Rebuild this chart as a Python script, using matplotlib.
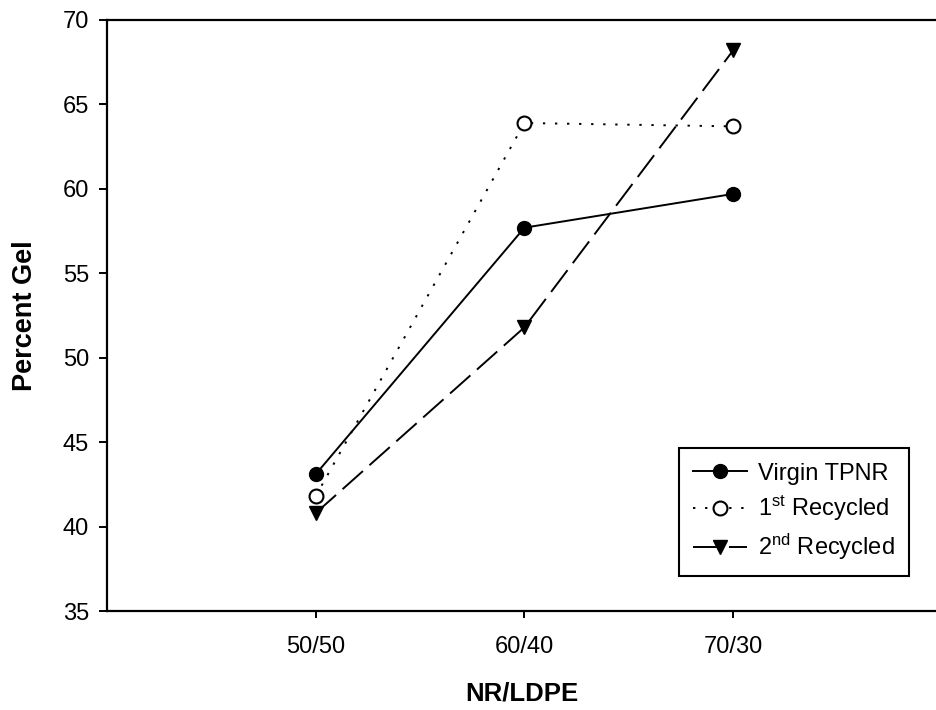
import matplotlib
matplotlib.use("Agg")
import matplotlib.pyplot as plt

plt.rcParams['font.family'] = ['Liberation Sans', 'DejaVu Sans']
plt.rcParams['mathtext.fontset'] = 'custom'
plt.rcParams['mathtext.rm'] = 'Liberation Sans'
plt.rcParams['mathtext.it'] = 'Liberation Sans'
plt.rcParams['mathtext.bf'] = 'Liberation Sans:bold'

categories = ["50/50", "60/40", "70/30"]
virgin = [43.1, 57.7, 59.7]
recycled1 = [41.8, 63.9, 63.7]
recycled2 = [40.8, 51.8, 68.2]
labels = ["Virgin TPNR", r"1$^{\mathrm{st}}$ Recycled", r"2$^{\mathrm{nd}}$ Recycled"]
yticks = [35, 40, 45, 50, 55, 60, 65, 70]

fig = plt.figure(figsize=(9.36, 7.10), dpi=100)
ax = fig.add_axes([107/936, 99/710, 1 - 107/936, 591/710])

x = list(range(1, len(categories) + 1))
ax.plot(x, virgin, color='black', lw=1.4, ls='-', marker='o', ms=10,
        mfc='black', mec='black', label=labels[0])
ax.plot(x, recycled1, color='black', lw=1.4, ls=(0, (1.2, 5)), marker='o', ms=10,
        mfc='white', mec='black', mew=1.5, label=labels[1])
ax.plot(x, recycled2, color='black', lw=1.4, ls=(0, (14, 4.5)), marker='v', ms=10,
        mfc='black', mec='black', label=labels[2])

ax.set_xlim(0, 3.972)
ax.set_ylim(35, 70)
ax.set_xticks(x)
ax.set_xticklabels(categories)
ax.set_yticks(yticks)

for s in ['left', 'bottom', 'top']:
    ax.spines[s].set_linewidth(1.6)
ax.spines['right'].set_visible(False)

ax.tick_params(axis='y', direction='out', length=6, width=1.4, labelsize=17, pad=7)
ax.tick_params(axis='x', direction='out', length=5, width=1.4, labelsize=17, pad=13)

ax.set_ylabel("Percent Gel", fontsize=19.5, fontweight='bold', labelpad=18)
ax.set_xlabel("NR/LDPE", fontsize=18.5, fontweight='bold', labelpad=17)

leg = ax.legend(loc='lower right', bbox_to_anchor=(0.967, 0.059), borderaxespad=0,
                fontsize=17, frameon=True, fancybox=False, shadow=False,
                handlelength=2.3, labelspacing=0.38, handletextpad=0.45,
                borderpad=0.6, edgecolor='black', framealpha=1)
leg.get_frame().set_linewidth(1.5)

fig.savefig("out.png", dpi=100)
